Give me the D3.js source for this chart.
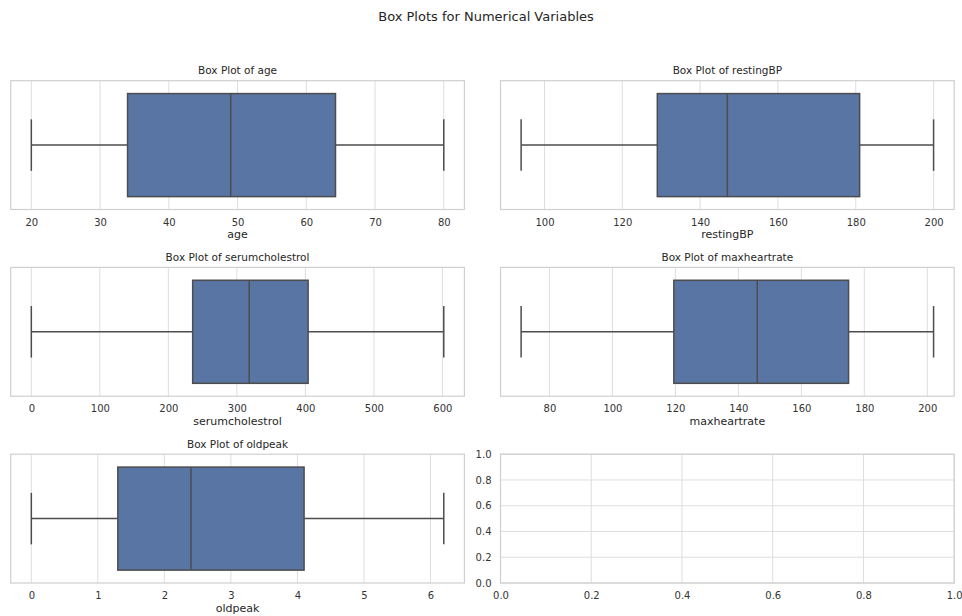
<!DOCTYPE html>
<html>
<head>
<meta charset="utf-8">
<script src="https://cdn.jsdelivr.net/npm/d3@7"></script>
<style>
  body { margin: 0; background: #ffffff; }
  text { font-family: "DejaVu Sans", sans-serif; fill: #262626; }
  .grid line { stroke: #dedede; stroke-width: 1; }
  .frame { fill: none; stroke: #cfcfcf; stroke-width: 1.2; }
  .tick text { font-size: 10px; fill: #333333; }
  .ptitle { font-size: 10.5px; }
  .label { font-size: 11px; }
</style>
</head>
<body>
<div id="chart"></div>
<script>
// Data
var variables = ["age", "restingBP", "serumcholestrol", "maxheartrate", "oldpeak"];
var mins    = [20,    94,  0,     71,    0];
var q1s     = [34,    129, 235.5, 119.5, 1.3];
var medians = [49,    147, 318,   146,   2.4];
var q3s     = [64.25, 181, 404,   175,   4.1];
var maxs    = [80,    200, 602,   202,   6.2];

// Tick labels for each panel
var xTicks = [
  [20, 30, 40, 50, 60, 70, 80],
  [100, 120, 140, 160, 180, 200],
  [0, 100, 200, 300, 400, 500, 600],
  [80, 100, 120, 140, 160, 180, 200],
  [0, 1, 2, 3, 4, 5, 6]
];
var emptyTicks = [0, 0.2, 0.4, 0.6, 0.8, 1.0];

var width = 962, height = 616;

// Panel grid
var colLeft = [10.7, 500.5];
var rowTop = [80.7, 267.4, 454.2];
var panelW = 453.7, panelH = 128.8;

var svg = d3.select("#chart")
  .append("svg")
  .attr("width", width)
  .attr("height", height);

svg.append("text")
  .attr("x", 486)
  .attr("y", 21)
  .attr("text-anchor", "middle")
  .style("font-size", "13px")
  .text("Box Plots for Numerical Variables");

var boxFill = "#5875a4";
var lineColor = "#4d4d4d";

variables.forEach(function(name, i) {
  var left = colLeft[i % 2], top = rowTop[Math.floor(i / 2)];

  var g = svg.append("g")
    .attr("transform", "translate(" + left + "," + top + ")");

  // matplotlib style 5% margin on each side
  var pad = (maxs[i] - mins[i]) * 0.05;
  var xScale = d3.scaleLinear()
    .domain([mins[i] - pad, maxs[i] + pad])
    .range([0, panelW]);

  var yScale = d3.scaleLinear()
    .domain([-0.5, 0.5])
    .range([0, panelH]);

  // vertical grid
  g.append("g")
    .attr("class", "grid")
    .selectAll("line")
    .data(xTicks[i])
    .enter()
    .append("line")
    .attr("x1", function(d) { return xScale(d); })
    .attr("x2", function(d) { return xScale(d); })
    .attr("y1", 0)
    .attr("y2", panelH);

  // whiskers
  g.append("line")
    .attr("x1", xScale(mins[i])).attr("x2", xScale(q1s[i]))
    .attr("y1", yScale(0)).attr("y2", yScale(0))
    .attr("stroke", lineColor).attr("stroke-width", 1.5);
  g.append("line")
    .attr("x1", xScale(q3s[i])).attr("x2", xScale(maxs[i]))
    .attr("y1", yScale(0)).attr("y2", yScale(0))
    .attr("stroke", lineColor).attr("stroke-width", 1.5);

  // caps
  [mins[i], maxs[i]].forEach(function(v) {
    g.append("line")
      .attr("x1", xScale(v)).attr("x2", xScale(v))
      .attr("y1", yScale(-0.2)).attr("y2", yScale(0.2))
      .attr("stroke", lineColor).attr("stroke-width", 1.5);
  });

  // box
  g.append("rect")
    .attr("x", xScale(q1s[i]))
    .attr("y", yScale(-0.4))
    .attr("width", xScale(q3s[i]) - xScale(q1s[i]))
    .attr("height", yScale(0.4) - yScale(-0.4))
    .attr("fill", boxFill)
    .attr("stroke", lineColor)
    .attr("stroke-width", 1.5);

  // median
  g.append("line")
    .attr("x1", xScale(medians[i])).attr("x2", xScale(medians[i]))
    .attr("y1", yScale(-0.4)).attr("y2", yScale(0.4))
    .attr("stroke", lineColor).attr("stroke-width", 1.5);

  g.append("rect")
    .attr("class", "frame")
    .attr("width", panelW)
    .attr("height", panelH);

  var xAxis = d3.axisBottom(xScale)
    .tickValues(xTicks[i])
    .tickSize(0)
    .tickPadding(9)
    .tickFormat(d3.format("d"));

  g.append("g")
    .attr("transform", "translate(0," + panelH + ")")
    .call(xAxis)
    .call(function(a) { a.select(".domain").remove(); });

  g.append("text")
    .attr("class", "ptitle")
    .attr("x", panelW / 2)
    .attr("y", -6.5)
    .attr("text-anchor", "middle")
    .text("Box Plot of " + name);

  g.append("text")
    .attr("class", "label")
    .attr("x", panelW / 2)
    .attr("y", panelH + 29)
    .attr("text-anchor", "middle")
    .text(name);
});

// empty sixth panel
var eg = svg.append("g")
  .attr("transform", "translate(" + colLeft[1] + "," + rowTop[2] + ")");

var ex = d3.scaleLinear().domain([0, 1]).range([0, panelW]);
var ey = d3.scaleLinear().domain([0, 1]).range([panelH, 0]);

eg.append("g").attr("class", "grid")
  .selectAll("line").data(emptyTicks).enter().append("line")
  .attr("x1", function(d) { return ex(d); })
  .attr("x2", function(d) { return ex(d); })
  .attr("y1", 0).attr("y2", panelH);

eg.append("g").attr("class", "grid")
  .selectAll("line").data(emptyTicks).enter().append("line")
  .attr("y1", function(d) { return ey(d); })
  .attr("y2", function(d) { return ey(d); })
  .attr("x1", 0).attr("x2", panelW);

eg.append("rect").attr("class", "frame").attr("width", panelW).attr("height", panelH);

eg.append("g")
  .attr("transform", "translate(0," + panelH + ")")
  .call(d3.axisBottom(ex).tickValues(emptyTicks).tickSize(0).tickPadding(9).tickFormat(d3.format(".1f")))
  .call(function(a) { a.select(".domain").remove(); });

eg.append("g")
  .call(d3.axisLeft(ey).tickValues(emptyTicks).tickSize(0).tickPadding(9).tickFormat(d3.format(".1f")))
  .call(function(a) { a.select(".domain").remove(); });
</script>
</body>
</html>
